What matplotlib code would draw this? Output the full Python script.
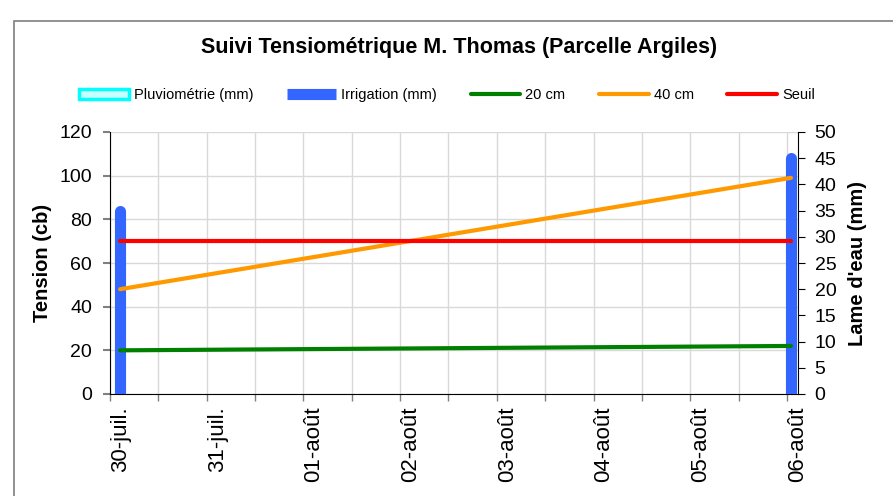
import matplotlib
matplotlib.use('Agg')
import matplotlib.pyplot as plt
import matplotlib.dates as mdates
from matplotlib.patches import Rectangle
import pandas as pd

plt.rcParams['font.family'] = ['Liberation Sans', 'DejaVu Sans']

# Data
dates = pd.to_datetime(['2023-07-30 02:30', '2023-08-06 01:00'])
tension_20 = [20, 22]
tension_40 = [48, 99]
seuil = [70, 70]
irrigation = [35, 45]
pluvio = [0, 0]

mois_fr = {7: 'juil.', 8: 'août'}
x_start = pd.Timestamp('2023-07-30 00:00')
x_end = pd.Timestamp('2023-08-06 02:45')

fig = plt.figure(figsize=(8.93, 4.96), dpi=100)

# chart area frame (cut off at right/bottom)
fig.add_artist(Rectangle((14 / 893, -0.1), 1.2, 1.1 - 21 / 496, transform=fig.transFigure,
                         fill=False, edgecolor='#7F7F7F', linewidth=1.2))

pos = [110 / 893, 1 - 394 / 496, (798 - 110) / 893, (394 - 132) / 496]
ax = fig.add_axes(pos)
ax2 = ax.twinx()
ax3 = ax.twinx()

# grid + left axis
ax.set_xlim(x_start, x_end)
ax.set_ylim(0, 120)
ax.set_yticks(range(0, 121, 20))
ax.xaxis.set_major_locator(mdates.DayLocator())
ax.xaxis.set_minor_locator(mdates.HourLocator(byhour=[12]))
ax.xaxis.set_major_formatter(plt.FuncFormatter(
    lambda v, p: mdates.num2date(v).strftime('%d-') + mois_fr[mdates.num2date(v).month]))
ax.grid(True, which='both', color='#D9D9D9', linewidth=1)
ax.tick_params(axis='x', which='both', direction='out', length=5, color='#808080', width=1)
ax.tick_params(axis='x', which='major', labelrotation=90, labelsize=16, pad=4)
for lab in ax.get_xticklabels():
    lab.set_horizontalalignment('left')
ax.tick_params(axis='y', direction='out', length=5, color='#808080', width=1.5,
               labelsize=14, pad=8)
ax.set_ylabel('Tension (cb)', fontsize=14.5, fontweight='bold', labelpad=5)
for s in ['top', 'right']:
    ax.spines[s].set_visible(False)
ax.spines['left'].set_color('black')
ax.spines['bottom'].set_color('black')

# bars on right axis
ax2.set_ylim(0, 50)
ax2.set_yticks(range(0, 51, 5))
ax2.patch.set_visible(False)
b_pluvio = ax2.bar(dates, pluvio, width=0.1, color='#C8FFFF', edgecolor='#00FFFF',
                   linewidth=2.5, label='Pluviométrie (mm)')
b_irr = ax2.vlines(dates, 0, irrigation, colors='#3366FF', linewidth=8, capstyle='round',
                   label='Irrigation (mm)')
ax2.tick_params(axis='y', direction='out', length=5, color='black', labelsize=14, pad=7)
ax2.set_ylabel("Lame d'eau (mm)", fontsize=14.5, fontweight='bold', labelpad=8)
for s in ['top', 'left', 'bottom']:
    ax2.spines[s].set_visible(False)
ax2.spines['right'].set_color('black')

# lines on top
ax3.set_ylim(0, 120)
ax3.patch.set_visible(False)
ax3.set_yticks([])
for s in ax3.spines.values():
    s.set_visible(False)
l20, = ax3.plot(dates, tension_20, color='#008000', linewidth=3, solid_capstyle='round', label='20 cm')
l40, = ax3.plot(dates, tension_40, color='#FF9900', linewidth=3, solid_capstyle='round', label='40 cm')
ls, = ax3.plot(dates, seuil, color='#FF0000', linewidth=3, solid_capstyle='round', label='Seuil')
ax3.set_xlim(x_start, x_end)

fig.text(459 / 893, 1 - 48 / 496, 'Suivi Tensiométrique M. Thomas (Parcelle Argiles)',
         ha='center', va='center', fontsize=15.5, fontweight='bold')

fig.legend(handles=[b_pluvio, b_irr, l20, l40, ls], loc='center', ncol=5,
           bbox_to_anchor=(447 / 893, 1 - 95 / 496), frameon=False, fontsize=10.5,
           handlelength=3.4, handletextpad=0.35, columnspacing=2.3)

fig.savefig('out.png', dpi=100)
